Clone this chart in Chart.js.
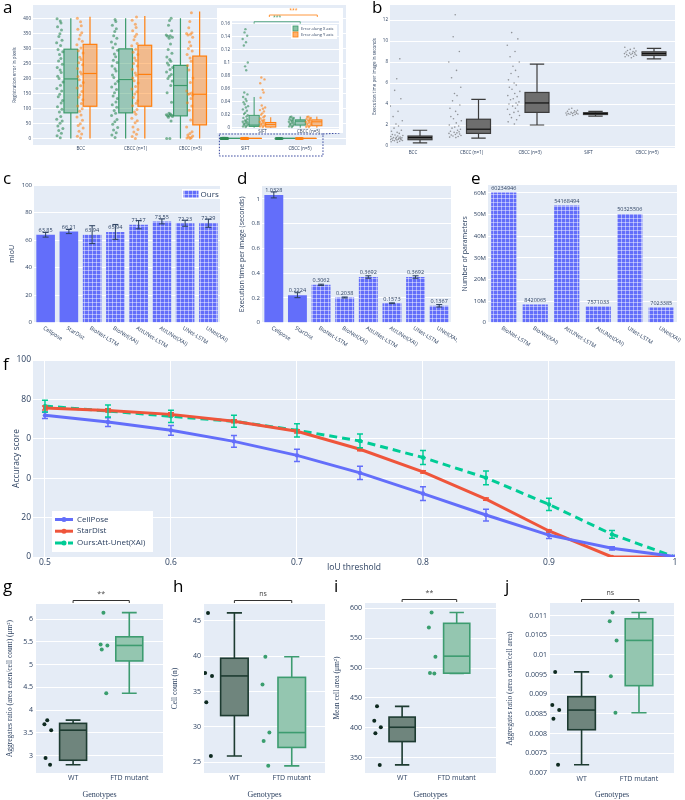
<!DOCTYPE html>
<html>
<head>
<meta charset="utf-8">
<script src="https://cdn.jsdelivr.net/npm/chart.js@4.4.1/dist/chart.umd.min.js"></script>
<style>
  body { margin: 0; background: #fff; }
  #fig { position: relative; width: 685px; height: 800px; overflow: hidden; }
  #fig canvas { position: absolute; }
  .tag { position: absolute; font: 17px/17px 'Open Sans', sans-serif; color: #000; }
</style>
</head>
<body>
<div id="fig"></div>
<script>
// ---------- data ----------
// fixed jitter offsets (fraction of spread)
var jit = [0.12,-0.85,0.47,-0.33,0.91,-0.6,0.05,0.7,-0.95,0.28,-0.15,0.62,-0.72,0.38,0.83,-0.48,-0.05,0.55,-0.9,0.18,
           0.97,-0.25,-0.66,0.41,0.08,-0.8,0.74,-0.4,0.3,-0.1,0.88,-0.55,0.22,-0.98,0.66,-0.3,0.02,0.5,-0.7,0.35];

// a: registration error (pixels)
var regCats = ['BCC', 'CBCC (n=1)', 'CBCC (n=3)', 'SIFT', 'CBCC (n=5)'];
var regBoxX = [[0,85,198,297,400],[0,85,196,298,400],[0,75,176,243,400],[0,0.002,0.004,0.019,0.047],[0,0.004,0.01,0.012,0.017]];
var regBoxY = [[0,107,216,313,405],[0,107,213,310,407],[0,45,147,274,422],[0,0.001,0.005,0.008,0.016],[0,0.003,0.009,0.012,0.017]];
var bccX = [2,9,17,26,33,41,50,58,64,73,88,97,105,118,126,139,147,158,166,177,188,199,207,219,228,236,247,258,266,279,288,296,309,318,327,339,348,361,372,384,391,398];
var bccY = [1,7,15,24,35,43,49,60,71,78,90,99,108,116,129,137,145,156,168,175,186,195,206,214,221,233,245,252,263,270,284,292,301,312,323,331,344,352,363,375,388,400];
var cb1X = [3,11,19,28,36,47,55,63,76,84,93,104,112,121,133,141,152,163,171,182,190,203,211,224,232,241,253,260,272,281,293,302,314,321,333,342,356,365,377,389,396];
var cb1Y = [0,6,14,21,30,38,52,59,67,80,88,96,109,117,125,136,148,155,164,173,184,192,201,210,218,230,241,249,259,268,279,287,297,308,316,328,339,347,358,369,380,393,404];
var cb3X = [0,0,58,70,73,75,76,77,79,81,84,120,152,176,191,199,207,213,221,229,236,244,251,257,263,271,283,296,314,333,337,340,342,344,358,377,392,400];
var cb3Y = [0,1,3,5,8,11,16,22,38,61,94,108,119,133,144,147,149,151,158,186,201,228,243,257,268,279,291,299,308,321,337,344,347,349,352,368,389,418];
var siftX = [0.001,0.002,0.003,0.004,0.005,0.006,0.007,0.008,0.009,0.010,0.011,0.013,0.015,0.017,0.019,0.021,0.023,0.026,0.028,0.031,0.033,0.036,0.039,0.041,0.044,0.047,0.051,0.054,0.088,0.094,0.1,0.126,0.131,0.136,0.141,0.146,0.151];
var siftY = [0.001,0.002,0.003,0.004,0.005,0.006,0.007,0.008,0.009,0.010,0.011,0.012,0.014,0.016,0.018,0.02,0.022,0.025,0.027,0.029,0.031,0.034,0.046,0.054,0.058,0.068,0.074,0.077];
var cb5X = [0.001,0.002,0.003,0.004,0.005,0.006,0.007,0.008,0.009,0.01,0.011,0.012,0.013,0.014,0.015,0.016,0.017];
var cb5Y = [0.001,0.0015,0.003,0.0035,0.005,0.006,0.0075,0.008,0.009,0.0105,0.011,0.012,0.0135,0.014,0.015,0.0165,0.017];
var regPtsX = [bccX, cb1X, cb3X, siftX, cb5X];
var regPtsY = [bccY, cb1Y, cb3Y, siftY, cb5Y];

// b: execution time (seconds)
var timeBox = [[0.3,0.6,0.8,0.95,1.5],[0.75,1.2,1.6,2.55,4.45],[2.0,3.2,4.1,5.1,7.8],[2.85,3.0,3.1,3.17,3.3],[8.3,8.62,8.8,8.97,9.3]];
var timeBcc = [0.35,0.4,0.45,0.5,0.52,0.55,0.58,0.6,0.62,0.65,0.68,0.7,0.72,0.75,0.78,0.8,0.82,0.85,0.9,0.95,1.0,1.05,1.1,1.2,1.3,1.4,1.5,1.7,1.9,2.1,2.4,2.8,3.3,3.8,4.5,5.3,6.4,8.3];
var timeCb1 = [0.8,0.85,0.9,0.95,1.0,1.05,1.1,1.15,1.2,1.25,1.3,1.35,1.4,1.5,1.6,1.7,1.8,1.9,2.0,2.2,2.4,2.6,2.8,3.0,3.3,3.6,3.9,4.3,4.8,5.0,5.6,6.5,7.2,8.0,9.0,10.4,12.5];
var timeCb3 = [2.1,2.3,2.5,2.7,2.9,3.0,3.2,3.3,3.5,3.6,3.8,3.9,4.0,4.1,4.2,4.4,4.5,4.7,4.8,5.0,5.2,5.4,5.6,5.8,6.0,6.3,6.6,6.9,7.2,7.6,8.0,8.5,9.0,9.6,10.2,10.8];
var timeSift = [2.9,2.95,3.0,3.02,3.05,3.08,3.1,3.12,3.15,3.18,3.2,3.25,3.3,3.35,3.4,3.5,3.6];
var timeCb5 = [8.4,8.5,8.55,8.6,8.65,8.7,8.72,8.75,8.8,8.82,8.85,8.9,8.95,9.0,9.05,9.1,9.2,9.3,9.4];
var timePts = [timeBcc, timeCb1, timeCb3, timeSift, timeCb5];

// c, d, e: model comparison
var models = ['Cellpose','StarDist','BioNet-LSTM','BioNet(XAI)','AttUNet-LSTM','AttUNet(XAI)','UNet-LSTM','UNet(XAI)'];
var baselines = ['Cellpose','StarDist'];
var miou = [63.85,66.21,63.94,65.94,71.17,73.55,72.23,72.29];
var miouErr = [1.7,1.5,6.5,5.4,3,1.8,2.2,3];
var secs = [1.0328,0.2224,0.3062,0.2038,0.3692,0.1573,0.3692,0.1367];
var secsErr = [0.024,0.02,0.005,0.004,0.01,0.003,0.01,0.01];
var ourModels = ['BioNet-LSTM','BioNet(XAI)','AttUNet-LSTM','AttUNet(XAI)','UNet-LSTM','UNet(XAI)'];
var nParams = [60234946,8420065,54168494,7571033,50325506,7023385];

// f: accuracy vs IoU threshold
var iou = [0.5,0.55,0.6,0.65,0.7,0.75,0.8,0.85,0.9,0.95,1];
var accCellpose = [71.9,68.5,64.3,58.7,51.6,42.7,32.2,21.3,11.1,4.4,0.2];
var errCellpose = [1.6,2.2,2.5,3,3.1,3.4,3.5,3,1.7,0.8,0];
var accStardist = [75.6,74.4,72.4,68.9,63.8,54.7,43.2,29.4,13.2,0,0];
var errStardist = [1,0.8,0.8,0.8,0.8,0.8,0.6,0.6,0.5,0,0];
var accOurs = [76.6,74.1,71.4,68.9,64.3,58.9,50.5,40.2,26.7,11.5,0];
var errOurs = [3,3,3.1,3,3.4,3.5,3.5,3.5,3.1,2,0];
var iouTicks = [0.5,0.6,0.7,0.8,0.9,1];
var accTicks = [0,20,40,60,80,100];
var accTickText = ['0','20','0','0','80','100'];

// g-j: genotypes
var genotypes = ['WT','FTD mutant'];
var genoJit = [-0.46,-0.51,-0.39,-0.49,-0.41];
var aggCountWT = [3.78,3.69,3.56,2.95,2.80];
var aggCountFTD = [6.14,5.44,5.42,5.33,4.37];
var aggCountBoxWT = [2.80,2.90,3.56,3.71,3.78];
var aggCountBoxFTD = [4.37,5.08,5.42,5.61,6.14];
var cellsWT = [46.1,37.6,37.2,33.5,25.9];
var cellsFTD = [39.9,36.0,29.2,28.0,24.5];
var cellsBoxWT = [25.9,31.6,37.2,39.7,46.1];
var cellsBoxFTD = [24.5,27.1,29.2,37.0,39.9];
var areaWT = [436,412,401,391,338];
var areaFTD = [593,568,519,492,491];
var areaBoxWT = [338,377,401,418,436];
var areaBoxFTD = [491,491.5,520,575,593];
var aggAreaWT = [0.00957,0.00873,0.0086,0.00838,0.00721];
var aggAreaFTD = [0.01108,0.01086,0.01037,0.00946,0.00853];
var aggAreaBoxWT = [0.00721,0.0081,0.0086,0.00894,0.00957];
var aggAreaBoxFTD = [0.00853,0.00922,0.01037,0.01092,0.01108];

// ---------- helpers ----------
var BLUE = '#636efa', RED = '#ef553b', GREEN = '#00cc96';
var XGREEN = '#3b9a6b', YORANGE = '#ff7f0e';
var FONT = "'Open Sans', sans-serif", SERIF = "'Liberation Serif', serif";

Chart.defaults.font.family = FONT;
Chart.defaults.color = '#2a3f5f';
Chart.defaults.animation = false;
Chart.defaults.plugins.legend.display = false;
Chart.defaults.plugins.tooltip.enabled = false;

Chart.register({
  id: 'plotBg',
  defaults: { paper: null, paperH: 0 },
  beforeDraw: function (chart, args, opts) {
    var a = chart.chartArea, ctx = chart.ctx;
    ctx.save();
    if (opts.paper) {
      ctx.fillStyle = opts.paper;
      ctx.fillRect(0, 0, chart.width, opts.paperH || chart.height);
    }
    ctx.fillStyle = '#e5ecf6';
    ctx.fillRect(a.left, a.top, a.right - a.left, a.bottom - a.top);
    ctx.restore();
  }
});

var fig = document.getElementById('fig');
function addCanvas(l, t, w, h) {
  var c = document.createElement('canvas');
  c.width = w; c.height = h;
  c.style.left = l + 'px'; c.style.top = t + 'px';
  fig.appendChild(c);
  return c.getContext('2d');
}
function tag(txt, x, y) {
  var d = document.createElement('div');
  d.className = 'tag'; d.textContent = txt;
  d.style.left = x + 'px'; d.style.top = y + 'px';
  fig.appendChild(d);
}

function num(v) { return String(Math.round(v * 1e6) / 1e6); }

function linAxis(o) {
  var title = { display: !!o.title, text: o.title || '', padding: 0, font: { size: o.tfs || o.fs } };
  if (o.tff) title.font.family = o.tff;
  var ax = {
    type: 'linear', min: o.min, max: o.max,
    grid: { display: !!o.grid, color: '#fff', lineWidth: 1, drawTicks: false },
    border: { display: false },
    ticks: { font: { size: o.fs }, padding: o.pad == null ? 2 : o.pad, autoSkip: false, maxRotation: 0, callback: o.cb || num },
    title: title
  };
  if (o.ticks) ax.afterBuildTicks = function (s) { s.ticks = o.ticks.map(function (v) { return { value: v }; }); };
  if (o.w != null) ax.afterFit = function (s) { s.width = o.w; };
  if (o.h != null) ax.afterFit = function (s) { s.height = o.h; };
  return ax;
}

function jitterSet(vals, cx, spread, color, r) {
  return {
    data: vals.map(function (v, k) { return { x: cx + jit[k % jit.length] * spread, y: v }; }),
    backgroundColor: color, borderWidth: 0, pointRadius: r
  };
}

function drawBox(chart, b) {
  var xs = chart.scales.x, ys = chart.scales.y, ctx = chart.ctx, a = chart.chartArea;
  var cx = xs.getPixelForValue(b.x);
  var hw = Math.abs(xs.getPixelForValue(b.x + b.w / 2) - cx);
  var p = b.s.map(function (v) { return ys.getPixelForValue(v); });
  ctx.save();
  ctx.beginPath(); ctx.rect(a.left, a.top, a.right - a.left, a.bottom - a.top); ctx.clip();
  ctx.lineWidth = b.lw; ctx.strokeStyle = b.line; ctx.fillStyle = b.fill;
  ctx.beginPath();
  ctx.moveTo(cx, p[0]); ctx.lineTo(cx, p[1]);
  ctx.moveTo(cx, p[3]); ctx.lineTo(cx, p[4]);
  if (b.cap) {
    var cw = hw * b.cap;
    ctx.moveTo(cx - cw, p[0]); ctx.lineTo(cx + cw, p[0]);
    ctx.moveTo(cx - cw, p[4]); ctx.lineTo(cx + cw, p[4]);
  }
  ctx.stroke();
  ctx.fillRect(cx - hw, p[3], 2 * hw, p[1] - p[3]);
  ctx.strokeRect(cx - hw, p[3], 2 * hw, p[1] - p[3]);
  ctx.beginPath(); ctx.moveTo(cx - hw, p[2]); ctx.lineTo(cx + hw, p[2]);
  ctx.strokeStyle = b.med || b.line; ctx.stroke();
  ctx.restore();
}
function boxPlugin(list) {
  return { id: 'boxes', beforeDatasetsDraw: function (chart) { list.forEach(function (b) { drawBox(chart, b); }); } };
}

function errorBars(sets) {
  return {
    id: 'errorBars',
    afterDatasetsDraw: function (chart) {
      var ctx = chart.ctx, ys = chart.scales.y;
      sets.forEach(function (s) {
        var meta = chart.getDatasetMeta(s.ds), data = chart.data.datasets[s.ds].data;
        ctx.save();
        ctx.strokeStyle = s.color; ctx.lineWidth = s.lw || 1;
        meta.data.forEach(function (el, i) {
          var e = s.err[i];
          if (!e) return;
          var v = typeof data[i] === 'object' ? data[i].y : data[i];
          var t = ys.getPixelForValue(v + e), b = ys.getPixelForValue(v - e);
          ctx.beginPath();
          ctx.moveTo(el.x, t); ctx.lineTo(el.x, b);
          ctx.moveTo(el.x - s.cap, t); ctx.lineTo(el.x + s.cap, t);
          ctx.moveTo(el.x - s.cap, b); ctx.lineTo(el.x + s.cap, b);
          ctx.stroke();
        });
        ctx.restore();
      });
    }
  };
}

function barText(fs) {
  return {
    id: 'barText',
    afterDatasetsDraw: function (chart) {
      var ctx = chart.ctx, ds = chart.data.datasets[0];
      ctx.save();
      ctx.font = fs + 'px ' + FONT; ctx.fillStyle = '#2a3f5f';
      ctx.textAlign = 'center'; ctx.textBaseline = 'bottom';
      chart.getDatasetMeta(0).data.forEach(function (el, i) { ctx.fillText(String(ds.data[i]), el.x, el.y - 1.5); });
      ctx.restore();
    }
  };
}

function slantLabels(fs) {
  return {
    id: 'slant',
    afterDraw: function (chart) {
      var xs = chart.scales.x, ctx = chart.ctx;
      ctx.save();
      ctx.font = fs + 'px ' + FONT; ctx.fillStyle = '#2a3f5f';
      ctx.textAlign = 'left'; ctx.textBaseline = 'middle';
      chart.data.labels.forEach(function (l, i) {
        ctx.save();
        ctx.translate(xs.getPixelForValue(i) - 2, xs.top + 5);
        ctx.rotate(32 * Math.PI / 180);
        ctx.fillText(l, 0, 0);
        ctx.restore();
      });
      ctx.restore();
    }
  };
}

function gridPattern() {
  var p = document.createElement('canvas');
  p.width = 4; p.height = 4;
  var g = p.getContext('2d');
  g.fillStyle = BLUE; g.fillRect(0, 0, 4, 4);
  g.fillStyle = 'rgba(255,255,255,0.45)';
  g.fillRect(0, 0, 4, 1); g.fillRect(0, 0, 1, 4);
  return g.createPattern(p, 'repeat');
}
var OURS = gridPattern();

function sigBracket(text) {
  return {
    id: 'sig',
    afterDraw: function (chart) {
      var xs = chart.scales.x, a = chart.chartArea, ctx = chart.ctx;
      var x1 = xs.getPixelForValue(0), x2 = xs.getPixelForValue(1), y = a.top - 3.5;
      ctx.save();
      ctx.strokeStyle = '#333'; ctx.lineWidth = 1;
      ctx.beginPath(); ctx.moveTo(x1, y + 2.5); ctx.lineTo(x1, y); ctx.lineTo(x2, y); ctx.lineTo(x2, y + 2.5); ctx.stroke();
      ctx.font = '7px ' + FONT; ctx.fillStyle = '#444'; ctx.textAlign = 'center'; ctx.textBaseline = 'middle';
      ctx.fillText(text, (x1 + x2) / 2, y - 7);
      ctx.restore();
    }
  };
}

// ---------- a: registration error ----------
var regSets = [], regBoxes = [];
regCats.forEach(function (c, i) {
  regSets.push(jitterSet(regPtsX[i], i - 0.38, 0.06, 'rgba(46,139,87,0.6)', 1.5));
  regSets.push(jitterSet(regPtsY[i], i - 0.01, 0.06, 'rgba(255,127,14,0.55)', 1.5));
  regBoxes.push({ x: i - 0.18, w: 0.25, s: regBoxX[i], line: XGREEN, fill: 'rgba(59,154,107,0.45)', lw: 1.2 });
  regBoxes.push({ x: i + 0.17, w: 0.25, s: regBoxY[i], line: YORANGE, fill: 'rgba(255,127,14,0.45)', lw: 1.2 });
});
new Chart(addCanvas(0, 0, 350, 160), {
  type: 'scatter',
  data: { datasets: regSets },
  options: {
    responsive: false,
    layout: { padding: { top: 5, right: 3, left: 12.3, bottom: 0 } },
    scales: {
      x: linAxis({ min: -0.87, max: 4.84, ticks: [0, 1, 2, 3, 4], cb: function (v) { return regCats[v]; }, fs: 4.5, pad: 1, h: 15 }),
      y: linAxis({ min: -22, max: 444, ticks: [0, 50, 100, 150, 200, 250, 300, 350, 400], fs: 4.5, pad: 2, w: 20.7, grid: true, title: 'Registration error in pixels' })
    }
  },
  plugins: [boxPlugin(regBoxes), {
    id: 'zoomMark',
    afterDraw: function (chart) {
      var xs = chart.scales.x, a = chart.chartArea, ctx = chart.ctx;
      var x1 = xs.getPixelForValue(2.53), x2 = xs.getPixelForValue(4.42);
      ctx.save();
      ctx.strokeStyle = '#34449c'; ctx.lineWidth = 1; ctx.setLineDash([1.5, 1.5]);
      ctx.strokeRect(x1, a.bottom - 11, x2 - x1, 22);
      ctx.beginPath(); ctx.moveTo(x2, a.bottom - 11); ctx.lineTo(x2 + 18, a.bottom - 12); ctx.stroke();
      ctx.restore();
    }
  }]
});

// inset of a: SIFT and CBCC (n=5)
var zoomCats = regCats.slice(3);
var insetSets = [], insetBoxes = [];
zoomCats.forEach(function (c, i) {
  insetSets.push(jitterSet(regPtsX[i + 3], i - 0.37, 0.06, 'rgba(46,139,87,0.6)', 1.2));
  insetSets.push(jitterSet(regPtsY[i + 3], i, 0.06, 'rgba(255,127,14,0.6)', 1.2));
  insetBoxes.push({ x: i - 0.18, w: 0.22, s: regBoxX[i + 3], line: XGREEN, fill: 'rgba(59,154,107,0.45)', lw: 1 });
  insetBoxes.push({ x: i + 0.18, w: 0.22, s: regBoxY[i + 3], line: YORANGE, fill: 'rgba(255,127,14,0.45)', lw: 1 });
});
new Chart(addCanvas(217, 8, 126, 128), {
  type: 'scatter',
  data: { datasets: insetSets },
  options: {
    responsive: false,
    layout: { padding: { top: 13, right: 2, left: 0, bottom: 0 } },
    plugins: { plotBg: { paper: '#fff', paperH: 125 } },
    scales: {
      x: linAxis({ min: -0.66, max: 1.66, ticks: [0, 1], cb: function (v) { return zoomCats[v]; }, fs: 4.5, pad: 0, h: 7 }),
      y: linAxis({ min: -0.002, max: 0.1635, ticks: [0, 0.02, 0.04, 0.06, 0.08, 0.1, 0.12, 0.14, 0.16], fs: 4.5, pad: 2, w: 15, grid: true })
    }
  },
  plugins: [boxPlugin(insetBoxes), {
    id: 'insetDecor',
    afterDraw: function (chart) {
      var xs = chart.scales.x, a = chart.chartArea, ctx = chart.ctx;
      ctx.save();
      // significance brackets
      [[-0.18, 0.82, a.top + 0.7, XGREEN], [0.15, 1.19, a.top - 6, YORANGE]].forEach(function (b) {
        var x1 = xs.getPixelForValue(b[0]), x2 = xs.getPixelForValue(b[1]);
        ctx.strokeStyle = b[3]; ctx.lineWidth = 0.8;
        ctx.beginPath(); ctx.moveTo(x1, b[2] + 2); ctx.lineTo(x1, b[2]); ctx.lineTo(x2, b[2]); ctx.lineTo(x2, b[2] + 2); ctx.stroke();
        ctx.fillStyle = b[3]; ctx.font = '5px ' + FONT; ctx.textAlign = 'center'; ctx.textBaseline = 'middle';
        ctx.fillText('***', (x1 + x2) / 2, b[2] - 4);
      });
      // legend
      var lx = a.right - 48, ly = a.top + 4;
      ctx.fillStyle = '#fff'; ctx.fillRect(lx, ly, 46, 14);
      [['Error along X axis', XGREEN, 'rgba(59,154,107,0.6)'], ['Error along Y axis', YORANGE, 'rgba(255,127,14,0.6)']].forEach(function (it, i) {
        var y = ly + 3.5 + i * 6;
        ctx.fillStyle = it[2]; ctx.fillRect(lx + 2, y - 2.5, 5, 5);
        ctx.strokeStyle = it[1]; ctx.lineWidth = 0.8; ctx.strokeRect(lx + 2, y - 2.5, 5, 5);
        ctx.fillStyle = '#2a3f5f'; ctx.font = '4px ' + FONT; ctx.textAlign = 'left'; ctx.textBaseline = 'middle';
        ctx.fillText(it[0], lx + 10, y);
      });
      ctx.restore();
    }
  }]
});

// ---------- b: execution time ----------
var timeSets = [], timeBoxes = [];
regCats.forEach(function (c, i) {
  timeSets.push(jitterSet(timePts[i], i - 0.28, 0.11, 'rgba(60,60,60,0.5)', 0.8));
  timeBoxes.push({ x: i + 0.12, w: 0.41, s: timeBox[i], line: '#3c3c3c', fill: '#6e6e6e', med: '#111', lw: 1.2, cap: 0.6 });
});
new Chart(addCanvas(370, 0, 315, 160), {
  type: 'scatter',
  data: { datasets: timeSets },
  options: {
    responsive: false,
    layout: { padding: { top: 5, right: 10, left: 2.3, bottom: 0 } },
    scales: {
      x: linAxis({ min: -0.393, max: 4.479, ticks: [0, 1, 2, 3, 4], cb: function (v) { return regCats[v]; }, fs: 4.5, pad: 2, h: 12 }),
      y: linAxis({ min: -0.19, max: 13.43, ticks: [0, 2, 4, 6, 8, 10, 12], fs: 4.5, pad: 2, w: 17.7, grid: true, title: 'Execution time per image in seconds' })
    }
  },
  plugins: [boxPlugin(timeBoxes)]
});

// ---------- c, d, e: bar charts ----------
function modelBars(o) {
  var catAxis = {
    grid: { display: false }, border: { display: false }, ticks: { display: false },
    afterFit: function (s) { s.height = o.xh; }
  };
  var plugins = [barText(5.5), slantLabels(5.5)];
  if (o.err) plugins.push(errorBars([{ ds: 0, err: o.err, color: '#2a3f5f', cap: 3, lw: 1 }]));
  if (o.legend) plugins.push({
    id: 'oursLegend',
    afterDraw: function (chart) {
      var a = chart.chartArea, ctx = chart.ctx, x = a.right - 38, y = a.top + 4;
      ctx.save();
      ctx.fillStyle = '#fff'; ctx.fillRect(x, y, 38, 10);
      ctx.fillStyle = OURS; ctx.fillRect(x + 1.5, y + 1.5, 15, 7);
      ctx.font = '8px ' + FONT; ctx.fillStyle = '#2a3f5f'; ctx.textBaseline = 'middle';
      ctx.fillText('Ours', x + 18.5, y + 5.5);
      ctx.restore();
    }
  });
  new Chart(addCanvas(o.l, 170, o.w, 200), {
    type: 'bar',
    data: {
      labels: o.labels,
      datasets: [{
        data: o.values,
        backgroundColor: o.labels.map(function (m) { return baselines.indexOf(m) >= 0 ? BLUE : OURS; }),
        borderWidth: 0, barPercentage: 0.8, categoryPercentage: 1
      }]
    },
    options: {
      responsive: false,
      layout: { padding: { top: o.top, right: o.right, left: o.padL, bottom: 0 } },
      scales: { x: catAxis, y: linAxis(o.y) }
    },
    plugins: plugins
  });
}

modelBars({
  l: 0, w: 232, top: 15, right: 12, padL: 7.8, xh: 47.3, labels: models, values: miou, err: miouErr, legend: true,
  y: { min: 0, max: 100, ticks: [0, 20, 40, 60, 80, 100], fs: 6, pad: 2, w: 26.2, grid: true, title: 'mIoU', tfs: 7 }
});
modelBars({
  l: 232, w: 225, top: 16, right: 6, padL: 5.5, xh: 47.3, labels: models, values: secs, err: secsErr,
  y: { min: 0, max: 1.105, ticks: [0, 0.2, 0.4, 0.6, 0.8, 1], fs: 6, pad: 2, w: 24.5, grid: true, title: 'Execution time per image (seconds)', tfs: 7 }
});
modelBars({
  l: 457, w: 228, top: 15, right: 8, padL: 3.3, xh: 47.3, labels: ourModels, values: nParams,
  y: { min: 0, max: 63.7e6, ticks: [0, 10e6, 20e6, 30e6, 40e6, 50e6, 60e6], fs: 6, pad: 2, w: 27.7, grid: true, title: 'Number of parameters', tfs: 7,
       cb: function (v) { return v === 0 ? '0' : (v / 1e6) + 'M'; } }
});

// ---------- f: accuracy vs IoU threshold ----------
function series(label, vals, color, dash) {
  return {
    label: label,
    data: iou.map(function (x, i) { return { x: x, y: vals[i] }; }),
    borderColor: color, backgroundColor: color, pointBackgroundColor: color,
    borderWidth: 3, pointRadius: 2.2, pointBorderWidth: 0, borderDash: dash || [], tension: 0
  };
}
new Chart(addCanvas(0, 350, 685, 223), {
  type: 'line',
  data: {
    datasets: [
      series('CellPose', accCellpose, BLUE),
      series('StarDist', accStardist, RED),
      series('Ours:Att-Unet(XAI)', accOurs, GREEN, [8, 5])
    ]
  },
  options: {
    responsive: false,
    layout: { padding: { top: 10, right: 10, left: 11.6, bottom: 0 } },
    scales: {
      x: linAxis({ min: 0.4905, max: 1, ticks: iouTicks, fs: 8.5, pad: 0, h: 16, grid: true, title: 'IoU threshold' }),
      y: linAxis({ min: 0, max: 100, ticks: accTicks, fs: 8.5, pad: 2, w: 21.4, grid: true, title: 'Accuracy score',
                   cb: function (v, i) { return accTickText[i]; } })
    }
  },
  plugins: [errorBars([
    { ds: 0, err: errCellpose, color: BLUE, cap: 3, lw: 1.5 },
    { ds: 1, err: errStardist, color: RED, cap: 3, lw: 1.5 },
    { ds: 2, err: errOurs, color: GREEN, cap: 3, lw: 1.5 }
  ]), {
    id: 'fLegend',
    afterDraw: function (chart) {
      var a = chart.chartArea, ctx = chart.ctx, x0 = a.left + 19, y0 = a.bottom - 46;
      ctx.save();
      ctx.fillStyle = '#fff'; ctx.fillRect(x0, y0, 101, 41);
      chart.data.datasets.forEach(function (ds, i) {
        var y = y0 + 8.5 + i * 11.7;
        ctx.strokeStyle = ds.borderColor; ctx.lineWidth = 3; ctx.setLineDash(ds.borderDash);
        ctx.beginPath(); ctx.moveTo(x0 + 3, y); ctx.lineTo(x0 + 21, y); ctx.stroke();
        ctx.setLineDash([]);
        ctx.fillStyle = ds.borderColor; ctx.beginPath(); ctx.arc(x0 + 12, y, 2.5, 0, 2 * Math.PI); ctx.fill();
        ctx.fillStyle = '#2a3f5f'; ctx.font = '8px ' + FONT; ctx.textBaseline = 'middle';
        ctx.fillText(ds.label, x0 + 25, y);
      });
      ctx.restore();
    }
  }]
});

// ---------- g-j: genotype box plots ----------
function genoChart(o) {
  var sets = [o.wt, o.ftd].map(function (p, g) {
    return {
      data: p.map(function (v, k) { return { x: g + genoJit[k], y: v }; }),
      backgroundColor: g ? '#3a9e6e' : '#0e2a20', borderWidth: 0, pointRadius: 2
    };
  });
  var boxes = [
    { x: 0, w: 0.48, s: o.wtBox, line: '#1d3b31', fill: '#6f857d', lw: 1.6, cap: 0.55 },
    { x: 1, w: 0.48, s: o.ftdBox, line: '#3d9c70', fill: '#94c6b0', lw: 1.6, cap: 0.55 }
  ];
  new Chart(addCanvas(o.l, 585, o.w, 215), {
    type: 'scatter',
    data: { datasets: sets },
    options: {
      responsive: false,
      layout: { padding: { top: o.top, right: o.right, left: o.padL, bottom: 0 } },
      scales: {
        x: linAxis({ min: o.xr[0], max: o.xr[1], ticks: [0, 1], cb: function (v) { return genotypes[v]; }, fs: 7, pad: 1, h: o.xh, title: 'Genotypes', tfs: 8, tff: SERIF }),
        y: linAxis({ min: o.yr[0], max: o.yr[1], ticks: o.ticks, fs: 7, pad: 3, w: o.yw, grid: true, title: o.title, tfs: 7.5, tff: SERIF })
      }
    },
    plugins: [boxPlugin(boxes), sigBracket(o.sig)]
  });
}
genoChart({ l: 0, w: 172, top: 19, right: 9, padL: 5.5, yw: 30.5, xh: 27, xr: [-0.66, 1.6], yr: [2.62, 6.33],
  ticks: [3, 3.5, 4, 4.5, 5, 5.5, 6], title: 'Aggregates ratio (area eaten/cell count) (\u03bcm\u00b2)',
  wt: aggCountWT, ftd: aggCountFTD, wtBox: aggCountBoxWT, ftdBox: aggCountBoxFTD, sig: '**' });
genoChart({ l: 166, w: 164, top: 19, right: 5, padL: 4.5, yw: 33.5, xh: 27, xr: [-0.53, 1.58], yr: [23.49, 47.36],
  ticks: [25, 30, 35, 40, 45], title: 'Cell count (n)',
  wt: cellsWT, ftd: cellsFTD, wtBox: cellsBoxWT, ftdBox: cellsBoxFTD, sig: 'ns' });
genoChart({ l: 330, w: 170, top: 18, right: 3, padL: 2.5, yw: 32.5, xh: 27, xr: [-0.68, 1.72], yr: [324.4, 609],
  ticks: [350, 400, 450, 500, 550, 600], title: 'Mean cell area (\u03bcm\u00b2)',
  wt: areaWT, ftd: areaFTD, wtBox: areaBoxWT, ftdBox: areaBoxFTD, sig: '**' });
genoChart({ l: 500, w: 185, top: 18, right: 11, padL: 5.5, yw: 44.5, xh: 26, xr: [-0.55, 1.61], yr: [0.006975, 0.011321],
  ticks: [0.007, 0.0075, 0.008, 0.0085, 0.009, 0.0095, 0.01, 0.0105, 0.011], title: 'Aggregates ratio (area eaten/cell area)',
  wt: aggAreaWT, ftd: aggAreaFTD, wtBox: aggAreaBoxWT, ftdBox: aggAreaBoxFTD, sig: 'ns' });

// ---------- panel letters ----------
tag('a', 3, -2); tag('b', 372, -2);
tag('c', 3, 169); tag('d', 237, 169); tag('e', 471, 169);
tag('f', 3, 355);
tag('g', 3, 577); tag('h', 173, 577); tag('i', 334, 577); tag('j', 505, 577);
</script>
</body>
</html>
